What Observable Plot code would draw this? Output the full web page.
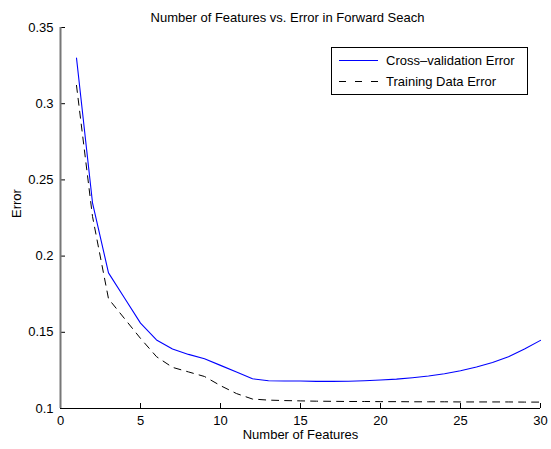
<!DOCTYPE html>
<html><head><meta charset="utf-8">
<script src="https://cdn.jsdelivr.net/npm/d3@7"></script>
<script src="https://cdn.jsdelivr.net/npm/@observablehq/plot@0.6"></script>
<style>body{margin:0;background:#fff} svg{display:block}</style>
</head><body><div id="chart"></div>
<script>
const features = [1,2,3,4,5,6,7,8,9,10,11,12,13,14,15,16,17,18,19,20,21,22,23,24,25,26,27,28,29,30];
const cvError = [0.330,0.235,0.189,0.1725,0.156,0.145,0.139,0.1355,0.1327,0.1283,0.124,0.1195,0.1182,0.118,0.118,0.1178,0.1178,0.1179,0.1182,0.1187,0.1193,0.1202,0.1213,0.1228,0.1248,0.1272,0.1302,0.134,0.139,0.1447];
const trainError = [0.312,0.226,0.172,0.159,0.146,0.134,0.127,0.124,0.121,0.115,0.1098,0.1062,0.1055,0.1052,0.1050,0.1048,0.1047,0.1046,0.1046,0.1045,0.1045,0.1044,0.1044,0.1044,0.1043,0.1043,0.1043,0.1043,0.1042,0.1042];
const seriesNames = ["Cross\u2013validation Error", "Training Data Error"];
const xTicks = [0,5,10,15,20,25,30];
const yTicks = [0.1,0.15,0.2,0.25,0.3,0.35];
const titleText = "Number of Features vs. Error in Forward Seach";
const xLabel = "Number of Features";
const yLabel = "Error";

const cvRows = features.map((f,i) => ({f, e: cvError[i]}));
const trRows = features.map((f,i) => ({f, e: trainError[i]}));

const W = 551, H = 449, ML = 60, MR = 11, MT = 27, MB = 41, TICK = 5;
const frameW = W - ML - MR, frameH = H - MT - MB;

const plot = Plot.plot({
  width: W, height: H,
  marginLeft: ML, marginRight: MR, marginTop: MT, marginBottom: MB,
  style: {fontFamily: "'Liberation Sans', Arial, sans-serif", fontSize: "13px", color: "black", background: "white", overflow: "visible"},
  x: {domain: [0,30]},
  y: {domain: [0.1,0.35]},
  marks: [
    Plot.ruleX(xTicks, {x: d => d, stroke: "black", insetTop: frameH - TICK}),
    Plot.ruleY(yTicks, {y: d => d, stroke: "black", insetRight: frameW - TICK}),
    Plot.ruleY([0.1], {stroke: "black"}),
    Plot.ruleX([0], {stroke: "#777", strokeWidth: 2}),
    Plot.axisX(xTicks, {tickSize: 0, tickPadding: 7, tickFormat: d => String(d), label: null}),
    Plot.axisY(yTicks, {tickSize: 0, tickPadding: 7, tickFormat: d => String(d), label: null}),
    Plot.line(trRows, {x: "f", y: "e", stroke: "black", strokeWidth: 1, strokeDasharray: "7,6"}),
    Plot.line(cvRows, {x: "f", y: "e", stroke: "#0000ff", strokeWidth: 1.1}),
    Plot.text([titleText], {text: d => d, frameAnchor: "top", dy: -15, dx: -13, fontSize: 13}),
    Plot.text([xLabel], {text: d => d, frameAnchor: "bottom", dy: 30, fontSize: 13}),
    Plot.text([yLabel], {text: d => d, frameAnchor: "left", rotate: -90, dx: -44, fontSize: 13})
  ]
});
document.getElementById("chart").appendChild(plot);

// legend
const svg = d3.select(plot);
const lg = svg.append("g").attr("font-family", "'Liberation Sans', Arial, sans-serif").attr("font-size", 13).attr("text-anchor", "start");
lg.append("rect").attr("x", 331.5).attr("y", 47.5).attr("width", 196).attr("height", 47)
  .attr("fill", "white").attr("stroke", "black");
const styles = [{stroke: "#0000ff", dash: null}, {stroke: "black", dash: "7,9"}];
seriesNames.forEach((name, i) => {
  const y = 60.5 + i * 21;
  lg.append("line").attr("x1", 339).attr("x2", 378).attr("y1", y).attr("y2", y)
    .attr("stroke", styles[i].stroke).attr("stroke-dasharray", styles[i].dash);
  lg.append("text").attr("x", 386).attr("y", y + 4.5).attr("text-anchor", "start").attr("fill", "black").text(name);
});
</script>
</body></html>
